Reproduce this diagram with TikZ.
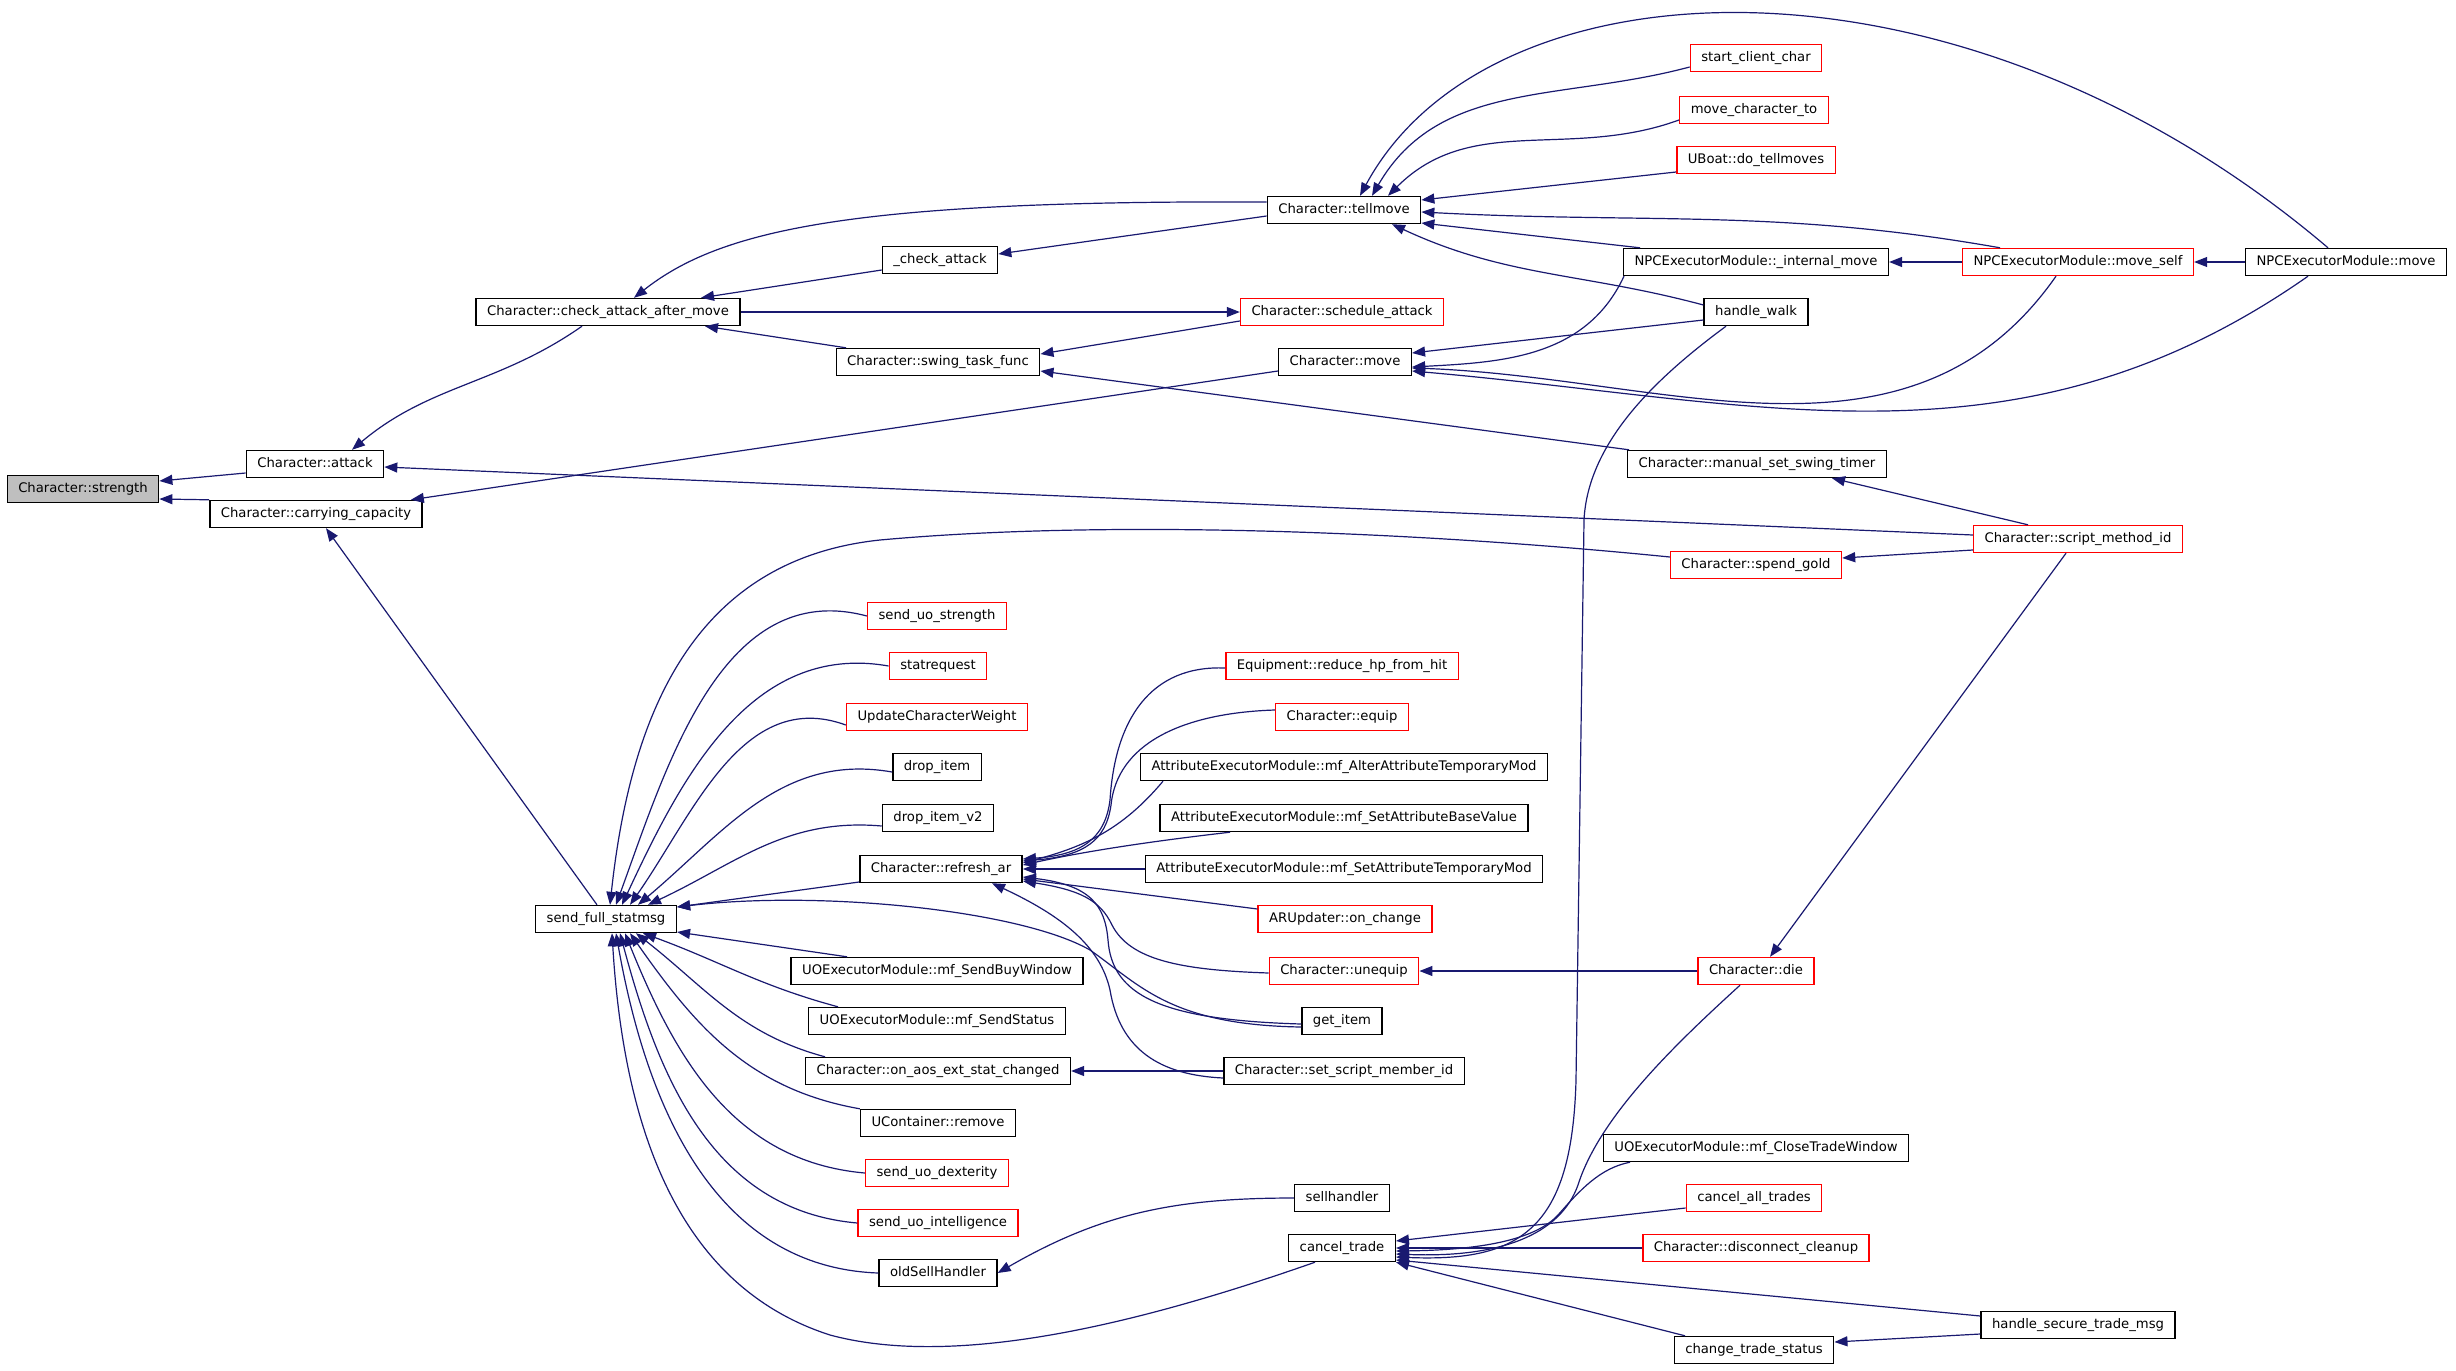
\documentclass[tikz,border=0pt]{standalone}
\usepackage{fontspec}
\setmainfont{DejaVu Sans}
\usetikzlibrary{arrows.meta}
\definecolor{edgeblue}{HTML}{191970}
\definecolor{boxred}{HTML}{FF0000}
\definecolor{rootgray}{HTML}{BFBFBF}

\begin{document}
\begin{tikzpicture}[x=1pt,y=1pt,
	fnode/.style={draw=black,line width=1.4pt,fill=white,rectangle,inner xsep=11pt,inner ysep=0pt,minimum height=27pt,text height=9.6pt,text depth=2.8pt,font=\fontsize{13.2}{16}\selectfont},
	fred/.style={fnode,draw=boxred},
	froot/.style={fnode,fill=rootgray},
	edge/.style={draw=edgeblue,line width=1.2pt,{Triangle[length=13pt,width=10pt]}-}]
	\fill[white] (0,0) rectangle (2456,-1370);
	\useasboundingbox (0,0) rectangle (2456,-1370);
	\node[froot] (strength) at (83,-489) {Character::strength};
	\node[fnode] (attack) at (315,-464) {Character::attack};
	\node[fnode] (carry) at (316,-514) {Character::carrying\_capacity};
	\node[fnode] (catm) at (608,-312) {Character::check\_attack\_after\_move};
	\node[fnode] (chkatk) at (940,-260) {\_check\_attack};
	\node[fnode] (swing) at (938,-362) {Character::swing\_task\_func};
	\node[fnode] (tell) at (1344,-210) {Character::tellmove};
	\node[fred] (sched) at (1342,-312) {Character::schedule\_attack};
	\node[fnode] (cmove) at (1345,-362) {Character::move};
	\node[fred] (startcc) at (1756,-58) {start\_client\_char};
	\node[fred] (movecto) at (1754,-110) {move\_character\_to};
	\node[fred] (dotell) at (1756,-160) {UBoat::do\_tellmoves};
	\node[fnode] (intmove) at (1756,-262) {NPCExecutorModule::\_internal\_move};
	\node[fnode] (walk) at (1756,-312) {handle\_walk};
	\node[fred] (mself) at (2078,-262) {NPCExecutorModule::move\_self};
	\node[fnode] (npcmove) at (2346,-262) {NPCExecutorModule::move};
	\node[fnode] (manual) at (1757,-464) {Character::manual\_set\_swing\_timer};
	\node[fred] (smid) at (2078,-539) {Character::script\_method\_id};
	\node[fred] (gold) at (1756,-565) {Character::spend\_gold};
	\node[fnode] (sfs) at (606,-919) {send\_full\_statmsg};
	\node[fred] (uostr) at (937,-616) {send\_uo\_strength};
	\node[fred] (statreq) at (938,-666) {statrequest};
	\node[fred] (ucw) at (937,-717) {UpdateCharacterWeight};
	\node[fnode] (drop) at (937,-767) {drop\_item};
	\node[fnode] (dropv) at (938,-818) {drop\_item\_v2};
	\node[fnode] (refar) at (941,-869) {Character::refresh\_ar};
	\node[fnode] (buywin) at (937,-971) {UOExecutorModule::mf\_SendBuyWindow};
	\node[fnode] (sendst) at (937,-1021) {UOExecutorModule::mf\_SendStatus};
	\node[fnode] (onaos) at (938,-1071) {Character::on\_aos\_ext\_stat\_changed};
	\node[fnode] (ucrem) at (938,-1123) {UContainer::remove};
	\node[fred] (uodex) at (937,-1173) {send\_uo\_dexterity};
	\node[fred] (uoint) at (938,-1223) {send\_uo\_intelligence};
	\node[fnode] (oldsell) at (938,-1273) {oldSellHandler};
	\node[fred] (reducehp) at (1342,-666) {Equipment::reduce\_hp\_from\_hit};
	\node[fred] (equip) at (1342,-717) {Character::equip};
	\node[fnode] (alter) at (1344,-767) {AttributeExecutorModule::mf\_AlterAttributeTemporaryMod};
	\node[fnode] (setbase) at (1344,-818) {AttributeExecutorModule::mf\_SetAttributeBaseValue};
	\node[fnode] (settemp) at (1344,-869) {AttributeExecutorModule::mf\_SetAttributeTemporaryMod};
	\node[fred] (arupd) at (1345,-919) {ARUpdater::on\_change};
	\node[fred] (unequip) at (1344,-971) {Character::unequip};
	\node[fnode] (getitem) at (1342,-1021) {get\_item};
	\node[fnode] (ssmid) at (1344,-1071) {Character::set\_script\_member\_id};
	\node[fnode] (sellh) at (1342,-1198) {sellhandler};
	\node[fnode] (canceltr) at (1342,-1248) {cancel\_trade};
	\node[fred] (die) at (1756,-971) {Character::die};
	\node[fnode] (closetw) at (1756,-1148) {UOExecutorModule::mf\_CloseTradeWindow};
	\node[fred] (cancelall) at (1754,-1198) {cancel\_all\_trades};
	\node[fred] (disconn) at (1756,-1248) {Character::disconnect\_cleanup};
	\node[fnode] (chgts) at (1754,-1350) {change\_trade\_status};
	\node[fnode] (securetm) at (2078,-1325) {handle\_secure\_trade\_msg};
	\draw[edge] ([yshift=8pt]strength.east) -- ([yshift=-9pt]attack.west);
	\draw[edge] ([yshift=-10pt]strength.east) -- (carry.north west);
	\draw[edge] ([xshift=37pt]attack.north) to[out=40,in=-145] ([xshift=-26pt]catm.south);
	\draw[edge] ([yshift=-3pt]attack.east) -- ([yshift=4pt]smid.west);
	\draw[edge] ([xshift=-12pt]carry.north east) -- ([yshift=-9pt]cmove.west);
	\draw[edge] ([xshift=10pt]carry.south) -- ([xshift=-9pt]sfs.north);
	\draw[edge] ([xshift=26pt]catm.north) .. controls (720,-230) and (850,-200) .. ([yshift=8pt]tell.west);
	\draw[edge] ([xshift=93pt]catm.north) -- ([yshift=-10pt]chkatk.west);
	\draw[edge] ([xshift=97pt]catm.south) -- ([xshift=-92pt]swing.north);
	\draw[edge] (sched.west) -- (catm.east);
	\draw[edge] ([yshift=6pt]chkatk.east) -- ([yshift=-6pt]tell.west);
	\draw[edge] ([yshift=8pt]swing.east) -- ([yshift=-9pt]sched.west);
	\draw[edge] ([yshift=-9pt]swing.east) -- ([xshift=-128pt]manual.north);
	\draw[edge] ([xshift=16pt]tell.north) .. controls (1490,45) and (1960,65) .. ([xshift=-18pt]npcmove.north);
	\draw[edge] ([xshift=28pt]tell.north) to[out=60,in=195] ([yshift=-9pt]startcc.west);
	\draw[edge] ([xshift=44pt]tell.north) to[out=45,in=200] ([yshift=-10pt]movecto.west);
	\draw[edge] ([yshift=10pt]tell.east) -- ([yshift=-12pt]dotell.west);
	\draw[edge] ([yshift=-2pt]tell.east) to[out=-3,in=170] ([xshift=-78pt]mself.north);
	\draw[edge] ([yshift=-13pt]tell.east) -- ([xshift=-116pt]intmove.north);
	\draw[edge] ([xshift=48pt]tell.south) to[out=-25,in=165] ([yshift=7pt]walk.west);
	\draw[edge] ([yshift=9pt]cmove.east) -- ([yshift=-8pt]walk.west);
	\draw[edge] ([yshift=-5pt]cmove.east) to[out=3,in=-115] ([xshift=-132pt]intmove.south);
	\draw[edge] ([yshift=-6pt]cmove.east) to[out=-2,in=-125] ([xshift=-22pt]mself.south);
	\draw[edge] ([yshift=-9pt]cmove.east) to[out=-5,in=-145] ([xshift=-38pt]npcmove.south);
	\draw[edge] (intmove.east) -- (mself.west);
	\draw[edge] (mself.east) -- (npcmove.west);
	\draw[edge] ([xshift=75pt]manual.south) -- ([xshift=-50pt]smid.north);
	\draw[edge] ([yshift=7pt]gold.east) -- ([yshift=-11pt]smid.west);
	\draw[edge] ([xshift=14pt]die.north) -- ([xshift=-12pt]smid.south);
	\draw[edge] (unequip.east) -- (die.west);
	\draw[edge] ([xshift=4pt]sfs.north) .. controls (630,-720) and (690,-560) .. (880,-540) .. controls (1100,-520) and (1400,-530) .. ([yshift=8pt]gold.west);
	\draw[edge] ([xshift=10pt]sfs.north) to[out=70,in=165] (uostr.west);
	\draw[edge] ([xshift=16pt]sfs.north) to[out=65,in=170] (statreq.west);
	\draw[edge] ([xshift=24pt]sfs.north) to[out=55,in=160] ([yshift=-8pt]ucw.west);
	\draw[edge] ([xshift=32pt]sfs.north) to[out=40,in=170] ([yshift=-5pt]drop.west);
	\draw[edge] ([xshift=42pt]sfs.north) to[out=25,in=175] ([yshift=-8pt]dropv.west);
	\draw[edge] ([yshift=12pt]sfs.east) -- ([yshift=-13pt]refar.west);
	\draw[edge] ([yshift=12pt]sfs.east) .. controls (820,-890) and (1020,-910) .. (1090,-950) .. controls (1140,-985) and (1170,-1025) .. ([yshift=-6pt]getitem.west);
	\draw[edge] ([yshift=-13pt]sfs.east) -- ([xshift=-90pt]buywin.north);
	\draw[edge] ([xshift=37pt]sfs.south) to[out=-20,in=165] ([xshift=-99pt]sendst.north);
	\draw[edge] ([xshift=30pt]sfs.south) to[out=-38,in=165] ([xshift=-113pt]onaos.north);
	\draw[edge] ([xshift=24pt]sfs.south) to[out=-55,in=170] (ucrem.north west);
	\draw[edge] ([xshift=19pt]sfs.south) to[out=-68,in=175] (uodex.west);
	\draw[edge] ([xshift=14pt]sfs.south) to[out=-75,in=175] (uoint.west);
	\draw[edge] ([xshift=10pt]sfs.south) to[out=-80,in=178] (oldsell.west);
	\draw[edge] ([xshift=6pt]sfs.south) .. controls (625,-1150) and (690,-1290) .. (830,-1335) .. controls (960,-1370) and (1150,-1320) .. ([xshift=-27pt]canceltr.south);
	\draw[edge] ([yshift=10pt]refar.east) .. controls (1080,-855) and (1105,-840) .. (1110,-800) .. controls (1115,-720) and (1150,-665) .. ([yshift=-2pt]reducehp.west);
	\draw[edge] ([yshift=8pt]refar.east) .. controls (1085,-856) and (1106,-840) .. (1111,-805) .. controls (1117,-745) and (1180,-713) .. ([yshift=7pt]equip.west);
	\draw[edge] ([yshift=6pt]refar.east) to[out=15,in=-130] ([xshift=-181pt]alter.south);
	\draw[edge] ([yshift=4pt]refar.east) .. controls (1100,-848) and (1180,-838) .. ([xshift=-114pt]setbase.south);
	\draw[edge] (refar.east) -- (settemp.west);
	\draw[edge] ([yshift=-10pt]refar.east) -- ([yshift=10pt]arupd.west);
	\draw[edge] ([yshift=-12pt]refar.east) .. controls (1080,-890) and (1100,-900) .. (1112,-925) .. controls (1130,-960) and (1180,-970) .. ([yshift=-2pt]unequip.west);
	\draw[edge] ([yshift=-8pt]refar.east) .. controls (1090,-885) and (1105,-905) .. (1108,-940) .. controls (1112,-995) and (1160,-1020) .. ([yshift=-3pt]getitem.west);
	\draw[edge] ([xshift=51pt]refar.south) .. controls (1060,-915) and (1100,-945) .. (1110,-990) .. controls (1120,-1050) and (1160,-1075) .. ([yshift=-7pt]ssmid.west);
	\draw[edge] (onaos.east) -- (ssmid.west);
	\draw[edge] (oldsell.east) to[out=30,in=180] (sellh.west);
	\draw[edge] ([yshift=7pt]canceltr.east) -- ([yshift=-10pt]cancelall.west);
	\draw[edge] (canceltr.east) -- (disconn.west);
	\draw[edge] ([yshift=-3pt]canceltr.east) .. controls (1480,-1250) and (1535,-1240) .. (1558,-1215) .. controls (1580,-1190) and (1600,-1168) .. ([xshift=-126pt]closetw.south);
	\draw[edge] ([yshift=-6pt]canceltr.east) .. controls (1500,-1258) and (1560,-1235) .. (1578,-1185) .. controls (1600,-1115) and (1680,-1040) .. ([xshift=-16pt]die.south);
	\draw[edge] ([yshift=-9pt]canceltr.east) .. controls (1520,-1262) and (1572,-1230) .. (1576,-1080) -- (1584,-520) .. controls (1588,-440) and (1660,-375) .. ([xshift=-30pt]walk.south);
	\draw[edge] ([yshift=-12pt]canceltr.east) -- ([yshift=9pt]securetm.west);
	\draw[edge] (canceltr.south east) -- ([xshift=-69pt]chgts.north);
	\draw[edge] ([yshift=8pt]chgts.east) -- ([yshift=-9pt]securetm.west);
\end{tikzpicture}
\end{document}
